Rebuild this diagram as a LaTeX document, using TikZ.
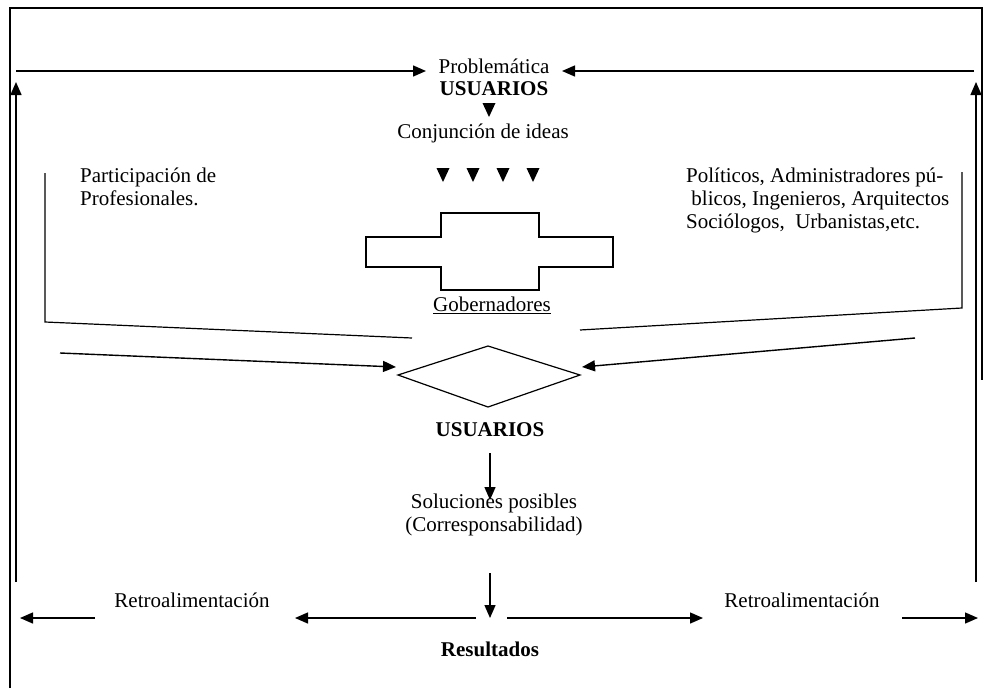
\documentclass[tikz,border=0pt]{standalone}
\usepackage{fontspec}
\setmainfont{Liberation Serif}
\usetikzlibrary{arrows.meta}
\begin{document}
\begin{tikzpicture}[x=1pt,y=-1pt,
  txt/.style={font=\fontsize{21}{23}\selectfont, inner sep=0pt},
  btxt/.style={txt, font=\fontsize{21}{23}\selectfont\bfseries},
  ln/.style={line width=1.2pt},
  arr/.style={line width=1.4pt, -{Triangle[length=13pt,width=11pt]}},
  tri/.pic={\fill (-6.5,-7) -- (6.5,-7) -- (0,7) -- cycle;}
]
\useasboundingbox (0,0) rectangle (985,688);
% frame
\draw[ln] (10,688) -- (10,8) -- (982,8) -- (982,380);
% side feedback arrows
\coordinate (lb) at (16,582);
\coordinate (lt) at (16,82);
\coordinate (rb) at (976,582);
\coordinate (rt) at (976,82);
\draw[arr] (lb) -- (lt);
\draw[arr] (rb) -- (rt);
% top
\node[txt] (prob) at (494,66) {Problemática};
\node[btxt] (usu1) at (494,89) {USUARIOS};
\coordinate (tls) at (16,71);
\coordinate (tle) at (426,71);
\coordinate (trs) at (974,71);
\coordinate (tre) at (562,71);
\draw[arr] (tls) -- (tle);
\draw[arr] (trs) -- (tre);
\pic at (489,110) {tri};
\node[txt] (conj) at (483,133) {Conjunción de ideas};
\pic at (443,175) {tri};
\pic at (473,175) {tri};
\pic at (503,175) {tri};
\pic at (533,175) {tri};
% cross shape
\draw[ln] (366,237) -- (441,237) -- (441,213) -- (539,213) -- (539,237) -- (613,237)
  -- (613,267) -- (539,267) -- (539,290) -- (441,290) -- (441,267) -- (366,267) -- cycle;
\node[txt] (gob) at (492,305) {\underline{Gobernadores}};
% side texts and brackets
\node[txt, anchor=north west, align=left] (part) at (80,168) {Participación de\\Profesionales.};
\node[txt, anchor=north west, align=left] (pol) at (686,168) {Políticos, Administradores pú-\\\ blicos, Ingenieros, Arquitectos\\Sociólogos,\ \ Urbanistas,etc.};
\draw[ln] (45,173) -- (45,322) -- (412,338);
\draw[ln] (962,172) -- (962,308) -- (580,330);
% diamond
\coordinate (dl) at (398,375);
\coordinate (dt) at (488,346);
\coordinate (dr) at (580,375);
\coordinate (db) at (488,407);
\draw[ln] (dl) -- (dt) -- (dr) -- (db) -- cycle;
\coordinate (la) at (60,353);
\coordinate (ra) at (915,338);
\draw[arr] (la) -- (396,367);
\draw[arr] (ra) -- (582,367);
\node[btxt] (usu2) at (490,430) {USUARIOS};
% solutions
\node[txt, align=center] (sol) at (494,515) {Soluciones posibles\\(Corresponsabilidad)};
\coordinate (s1) at (490,453);
\coordinate (s1e) at (490,500);
\draw[arr] (s1) -- (s1e);
\coordinate (s2) at (490,573);
\coordinate (res) at (490,618);
\draw[arr] (s2) -- (res);
\node[btxt] (resul) at (490,649) {Resultados};
% bottom feedback
\node[txt] (retl) at (192,600) {Retroalimentación};
\node[txt] (retr) at (802,600) {Retroalimentación};
\draw[arr] (476,618) -- (295,618);
\draw[arr] (507,618) -- (703,618);
\draw[arr] (95,618) -- (20,618);
\draw[arr] (902,618) -- (978,618);
\end{tikzpicture}
\end{document}
